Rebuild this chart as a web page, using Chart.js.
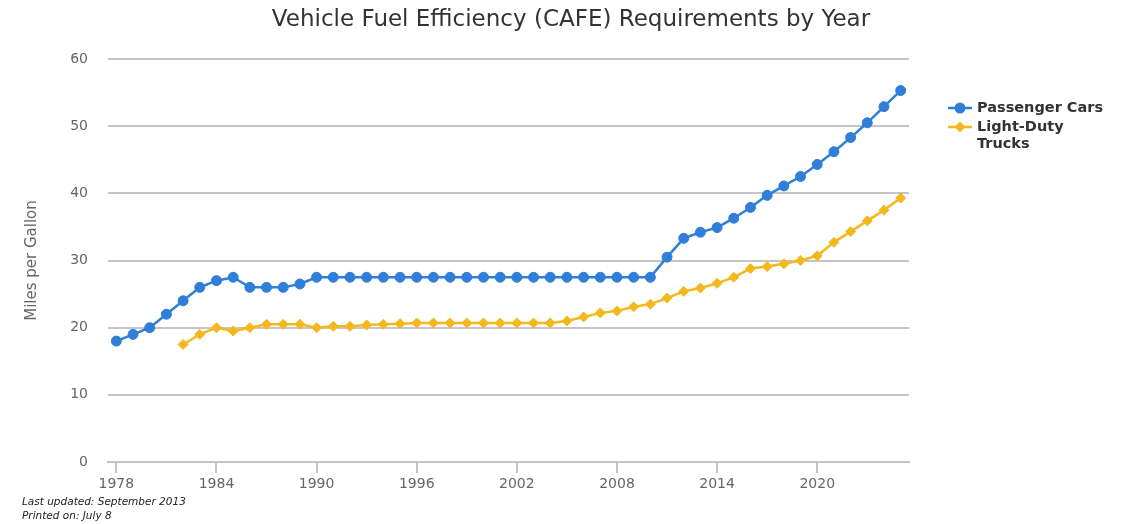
<!DOCTYPE html>
<html><head><meta charset="utf-8">
<script src="https://cdn.jsdelivr.net/npm/chart.js@4"></script>
<style>html,body{margin:0;padding:0;background:#fff}#wrap{width:1128px;height:524px;position:relative}</style>
</head><body><div id="wrap"><canvas id="c" width="1128" height="524"></canvas></div>
<script>
const years = [1978,1979,1980,1981,1982,1983,1984,1985,1986,1987,1988,1989,
  1990,1991,1992,1993,1994,1995,1996,1997,1998,1999,2000,2001,2002,2003,2004,2005,2006,2007,2008,2009,2010,
  2011,2012,2013,2014,2015,2016,2017,2018,2019,2020,2021,2022,2023,2024,2025];
const passengerCars = [18,19,20,22,24,26,27,27.5,26,26,26,26.5,
  27.5,27.5,27.5,27.5,27.5,27.5,27.5,27.5,27.5,27.5,27.5,27.5,27.5,27.5,27.5,27.5,27.5,27.5,27.5,27.5,27.5,
  30.5,33.3,34.2,34.9,36.3,37.9,39.7,41.1,42.5,44.3,46.2,48.3,50.5,52.9,55.3];
const lightTrucks = [null,null,null,null,17.5,19,20,19.5,20,20.5,20.5,20.5,
  20,20.2,20.2,20.4,20.5,20.6,20.7,20.7,20.7,20.7,20.7,20.7,20.7,20.7,20.7,21.0,21.6,22.2,22.5,23.1,23.5,
  24.4,25.4,25.9,26.6,27.5,28.8,29.1,29.5,30.0,30.7,32.7,34.3,35.9,37.5,39.3];
const xTickYears = [1978,1984,1990,1996,2002,2008,2014,2020];
const yTickValues = [0,10,20,30,40,50,60];
const seriesNames = ['Passenger Cars','Light-Duty Trucks'];
const legendLines = [['Passenger Cars'],['Light-Duty','Trucks']];
const titleText = 'Vehicle Fuel Efficiency (CAFE) Requirements by Year';
const yAxisTitle = 'Miles per Gallon';
const footerLines = ['Last updated: September 2013','Printed on: July 8'];

const FONT = '"DejaVu Sans", sans-serif';
const BLUE = '#2f7ed8';
const YELLOW = '#f4b81f';
const GRID = '#c4c4c4';

const overlay = {
  id: 'overlay',
  afterDraw(chart) {
    const ctx = chart.ctx;
    ctx.save();
    ctx.fillStyle = '#333';
    ctx.font = '23px ' + FONT;
    ctx.textAlign = 'center';
    ctx.textBaseline = 'middle';
    ctx.fillText(titleText, 571, 20);
    // legend
    const ys = [108, 127];
    chart.data.datasets.forEach((ds, i) => {
      const y = ys[i];
      ctx.strokeStyle = ds.borderColor;
      ctx.lineWidth = 2.5;
      ctx.beginPath(); ctx.moveTo(948, y); ctx.lineTo(972, y); ctx.stroke();
      ctx.fillStyle = ds.borderColor;
      ctx.beginPath();
      if (ds.pointStyle === 'circle') { ctx.arc(960, y, 5.5, 0, Math.PI * 2); }
      else { ctx.moveTo(960, y - 5.5); ctx.lineTo(965.5, y); ctx.lineTo(960, y + 5.5); ctx.lineTo(954.5, y); ctx.closePath(); }
      ctx.fill();
      ctx.fillStyle = '#333';
      ctx.font = 'bold 14.5px ' + FONT;
      ctx.textAlign = 'left';
      legendLines[i].forEach((t, j) => ctx.fillText(t, 977, y + j * 17));
    });
    ctx.font = 'italic 10.5px ' + FONT;
    ctx.fillStyle = '#222';
    ctx.textAlign = 'left';
    footerLines.forEach((t, j) => ctx.fillText(t, 22, 502 + j * 14));
    ctx.restore();
  }
};

new Chart(document.getElementById('c'), {
  type: 'line',
  data: {
    datasets: [
      { label: seriesNames[0], data: years.map((x, i) => ({ x, y: passengerCars[i] })),
        borderColor: BLUE, backgroundColor: BLUE, pointBackgroundColor: BLUE, pointBorderColor: BLUE,
        borderWidth: 2.5, pointRadius: 5, pointBorderWidth: 1, pointStyle: 'circle', tension: 0 },
      { label: seriesNames[1], data: years.map((x, i) => ({ x, y: lightTrucks[i] })),
        borderColor: YELLOW, backgroundColor: YELLOW, pointBackgroundColor: YELLOW, pointBorderColor: YELLOW,
        borderWidth: 2.5, pointRadius: 5, pointBorderWidth: 1, pointStyle: 'rectRot', tension: 0 }
    ]
  },
  options: {
    responsive: false, animation: false, devicePixelRatio: 1,
    layout: { padding: { top: 59, right: 219, bottom: 32, left: 0 } },
    plugins: { legend: { display: false }, title: { display: false }, tooltip: { enabled: false } },
    scales: {
      x: {
        type: 'linear', min: 1977.5, max: 2025.5,
        afterBuildTicks: s => { s.ticks = xTickYears.map(v => ({ value: v })); },
        ticks: { callback: v => String(v), color: '#666', font: { size: 14, family: FONT }, padding: 3, maxRotation: 0, autoSkip: false },
        grid: { drawOnChartArea: false, drawTicks: true, tickLength: 11, color: GRID, lineWidth: 2 },
        border: { display: true, color: GRID, width: 2 },
        afterFit: s => { s.height = 30; }
      },
      y: {
        min: 0, max: 60,
        afterBuildTicks: s => { s.ticks = yTickValues.map(v => ({ value: v })); },
        ticks: { color: '#666', font: { size: 14, family: FONT }, padding: 20 },
        grid: { color: GRID, drawTicks: false, lineWidth: 2 },
        border: { display: false },
        title: { display: true, text: yAxisTitle, color: '#666', font: { size: 15, family: FONT }, padding: { top: 23, bottom: 0 } },
        afterFit: s => { s.width = 108; }
      }
    }
  },
  plugins: [overlay]
});
</script></body></html>
